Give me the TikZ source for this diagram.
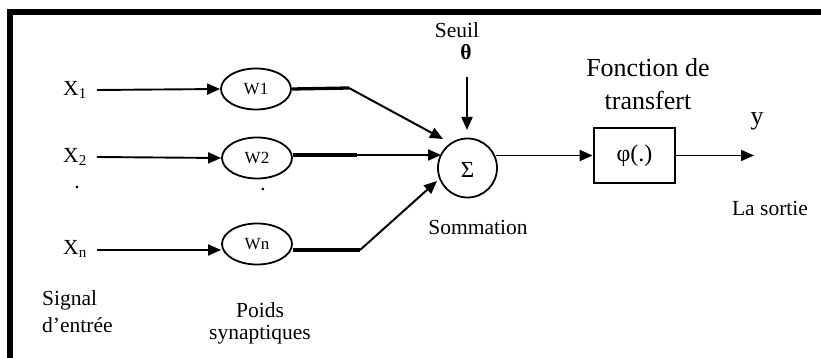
\documentclass[tikz,border=0pt]{standalone}
\usepackage{fontspec}
\setmainfont{Liberation Serif}
\usetikzlibrary{arrows.meta,shapes.geometric}
\begin{document}
\begin{tikzpicture}[x=1pt,y=-1pt,
  lbl/.style={inner sep=0pt,font=\fontsize{21.5}{26}\selectfont},
  big/.style={inner sep=0pt,font=\fontsize{26}{31}\selectfont},
  wnode/.style={draw,ellipse,line width=1.8pt,minimum width=70pt,minimum height=41pt,inner sep=0pt,font=\fontsize{17}{20}\selectfont},
  arr/.style={line width=1.9pt,-{Triangle[length=13pt,width=11pt]}},
  thick3/.style={line width=3.3pt},
  thinarr/.style={line width=2pt,-{Triangle[length=13pt,width=11pt]}}]
\useasboundingbox (0,0) rectangle (821,358);
% frame
\draw[line width=6pt] (10,358) -- (10,12) -- (821,12);
% inputs
\node[lbl] (x1) at (75,90) {X\textsubscript{1}};
\node[lbl] (x2) at (75,157) {X\textsubscript{2}};
\node[lbl] (xn) at (75,249) {X\textsubscript{n}};
\node[lbl] (d1) at (77,188) {.};
% weights
\node[wnode] (w1) at (256,89) {W1};
\node[wnode] (w2) at (257,158) {W2};
\node[wnode] (wn) at (257,244) {Wn};
\node[lbl] (d2) at (263,190) {.};
\draw[arr] ([xshift=10pt]x1.east |- 0,90) -- (w1.west);
\draw[arr] ([xshift=10pt]x2.east |- 0,157) -- (w2.west);
\draw[arr] ([xshift=10pt]xn.east |- 0,250) -- (wn.west |- 0,250);
% sum
\node[draw,circle,line width=1.8pt,minimum size=59pt,inner sep=0pt,font=\fontsize{23}{27}\selectfont,text depth=0pt] (sig) at (467.5,168) {\raisebox{-4pt}{Σ}};
\coordinate (c1) at (349,88);
\coordinate (c2) at (357,155);
\coordinate (c3) at (360,250);
\coordinate (t1) at (443,139);
\coordinate (t2) at (441,155);
\coordinate (t3) at (437,181);
\draw[thick3] (w1.east) -- (c1);
\draw[thick3] (w2.east |- c2) -- (c2);
\draw[thick3] (wn.east |- c3) -- (c3);
\draw[thinarr] (c1) -- (t1);
\draw[thinarr] (c2) -- (t2);
\draw[thinarr] (c3) -- (t3);
% threshold
\node[lbl] (seuil) at (457,30) {Seuil};
\node[lbl] (theta) at (466,52) {\textbf{θ}};
\coordinate (th0) at (467,77);
\coordinate (th1) at (467,130);
\draw[thinarr] (th0) -- (th1);
\node[lbl] (somm) at (478,227) {Sommation};
% transfer
\node[draw,line width=2.8pt,minimum width=81pt,minimum height=55pt,inner sep=0pt,font=\fontsize{24}{28}\selectfont] (phi) at (634.5,155.5) {φ(.)};
\coordinate (s0) at (496,155.5);
\draw[arr] (s0) -- (phi.west);
\coordinate (yend) at (754,155.5);
\draw[arr] (phi.east) -- (yend);
\node[big] (fct1) at (648,68) {Fonction de};
\node[big] (fct2) at (648,100) {transfert};
\node[big] (y) at (757,121) {y};
\node[lbl] (sortie) at (770,208) {La sortie};
% bottom labels
\node[lbl,anchor=west] (sig1) at (42,300) {Signal};
\node[lbl,anchor=west] (sig2) at (42,325) {d’entrée};
\node[lbl] (p1) at (260,310) {Poids};
\node[lbl] (p2) at (260,335) {synaptiques};
\end{tikzpicture}
\end{document}
